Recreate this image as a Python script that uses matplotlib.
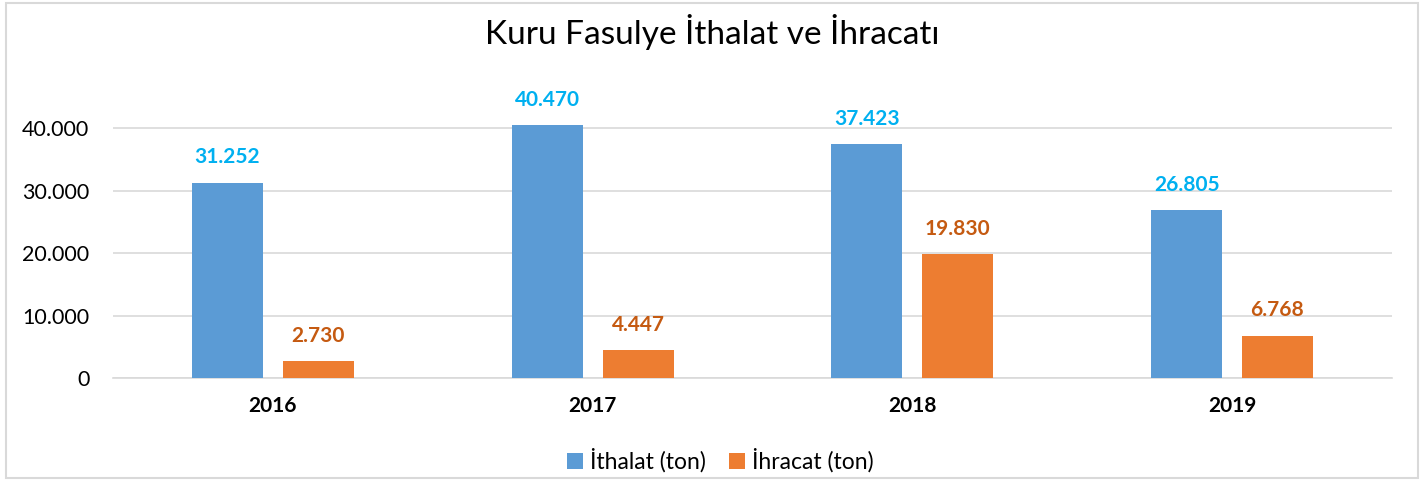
import matplotlib.pyplot as plt
import numpy as np
from matplotlib.patches import Rectangle
from matplotlib.ticker import FuncFormatter

plt.rcParams['font.family'] = ['Lato', 'DejaVu Sans']

# data
years = ['2016', '2017', '2018', '2019']
ithalat = [31252, 40470, 37423, 26805]
ihracat = [2730, 4447, 19830, 6768]

def tr_fmt(v):
    return '{:,.0f}'.format(v).replace(',', '.')

fig = plt.figure(figsize=(14.24, 4.8), dpi=100)
ax = fig.add_axes([0.0794, 0.2125, 0.8981, 0.5859])

x = np.arange(len(years))
w = 0.222
off = 0.142
b1 = ax.bar(x - off, ithalat, w, color='#5B9BD5', label='İthalat (ton)', zorder=3)
b2 = ax.bar(x + off, ihracat, w, color='#ED7D31', label='İhracat (ton)', zorder=3)

for xi, v in zip(x, ithalat):
    ax.annotate(tr_fmt(v), (xi - off, v), xytext=(0, 11), textcoords='offset points',
                ha='center', va='bottom', fontsize=15, fontweight='bold', color='#00B0F0')
for xi, v in zip(x, ihracat):
    ax.annotate(tr_fmt(v), (xi + off, v), xytext=(0, 11), textcoords='offset points',
                ha='center', va='bottom', fontsize=15, fontweight='bold', color='#C55A11')

ax.set_xlim(-0.5, len(years) - 0.5)
ax.set_ylim(0, 45000)
ax.set_yticks([0, 10000, 20000, 30000, 40000])
ax.yaxis.set_major_formatter(FuncFormatter(lambda v, p: tr_fmt(v)))
ax.set_xticks(x)
ax.set_xticklabels(years, fontweight='bold')
ax.tick_params(axis='x', length=0, labelsize=15, pad=13)
ax.tick_params(axis='y', length=0, labelsize=15.5, pad=17)
ax.grid(axis='y', color='#D9D9D9', linewidth=1.2, zorder=0)
for s in ['top', 'right', 'left']:
    ax.spines[s].set_visible(False)
ax.spines['bottom'].set_color('#D9D9D9')
ax.spines['bottom'].set_linewidth(1.2)

fig.suptitle('Kuru Fasulye İthalat ve İhracatı', fontsize=24, y=0.97, color='#000000')

fig.legend(handles=[b1, b2], loc='center', bbox_to_anchor=(0.506, 0.04), ncol=2,
           frameon=False, fontsize=16.5, handlelength=0.7, handleheight=0.7,
           handletextpad=0.3, columnspacing=1.0)

fig.patches.append(Rectangle((0.004, 0.004), 0.992, 0.99, transform=fig.transFigure,
                             fill=False, edgecolor='#D9D9D9', linewidth=1.5))

fig.savefig('out.png', dpi=100)
